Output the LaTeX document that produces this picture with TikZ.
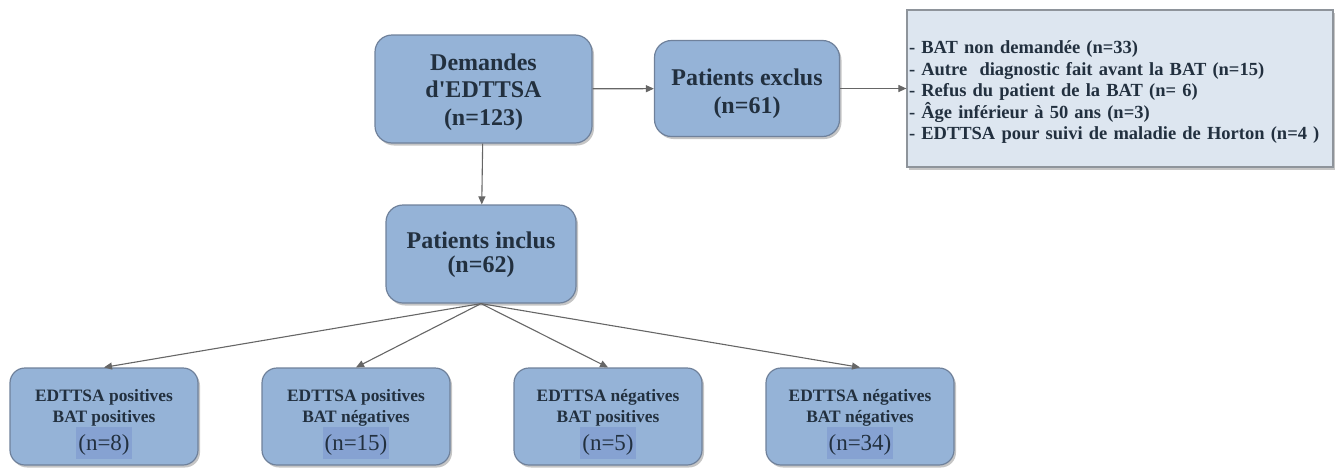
\documentclass[tikz,border=0pt]{standalone}
\usepackage{fontspec}
\setmainfont{Liberation Serif}
\usetikzlibrary{arrows.meta,shadows}
\definecolor{boxfill}{HTML}{95B3D7}
\definecolor{boxdraw}{HTML}{6F819B}
\definecolor{txt}{HTML}{22303F}
\definecolor{notefill}{HTML}{DDE6F0}
\definecolor{notedraw}{HTML}{8E949B}
\definecolor{hl}{HTML}{86A2D2}
\definecolor{arr}{HTML}{666666}
\newcommand{\hlt}[1]{{\setlength{\fboxsep}{2pt}\colorbox{hl}{\fontseries{m}\fontsize{23}{23}\selectfont\rule[-7pt]{0pt}{28pt}#1}}}
\newcommand{\tstrut}[1]{\rule{0pt}{#1}}
\begin{document}
\begin{tikzpicture}[x=1pt,y=-1pt,
  shad/.style={drop shadow={shadow xshift=2pt,shadow yshift=-2.5pt,fill=black!45,opacity=0.5}},
  mainbox/.style={shad,draw=boxdraw,line width=1.2pt,fill=boxfill,rounded corners=17pt,
     align=center,text=txt,font=\bfseries\fontsize{24}{27.5}\selectfont,inner sep=0pt},
  smallbox/.style={shad,draw=boxdraw,line width=1.2pt,fill=boxfill,rounded corners=15pt,
     align=center,text=txt,font=\bfseries\fontsize{17.4}{21}\selectfont,inner sep=0pt,
     minimum width=188pt,minimum height=97pt},
  notebox/.style={shad,draw=notedraw,line width=1.2pt,fill=notefill,
     align=left,text=txt,font=\bfseries\fontsize{18.5}{21.6}\selectfont,
     minimum width=426pt,minimum height=157pt,text width=422pt,inner xsep=2pt},
  conn/.style={draw=arr,line width=1.1pt,-{Triangle[length=8pt,width=7pt]}}
]
\useasboundingbox (0,0) rectangle (1341,469);

\node[mainbox,minimum width=217pt,minimum height=108pt] (dem) at (483.5,89)
  {\tstrut{22.5pt}Demandes\\d\textquotesingle EDTTSA\\(n=123)};
\node[mainbox,minimum width=185pt,minimum height=96pt,font=\bfseries\fontsize{24}{28}\selectfont] (exc) at (747,88.5)
  {\tstrut{26.5pt}Patients exclus\\(n=61)};
\node[notebox] (note) at (1120,88.5)
  {\tstrut{20.5pt}- BAT non demandée (n=33)\\
   - Autre\ \ diagnostic fait avant la BAT (n=15)\\
   - Refus du patient de la BAT (n= 6)\\
   - Âge inférieur à 50 ans (n=3)\\
   - EDTTSA pour suivi de maladie de Horton (n=4 )};
\node[mainbox,minimum width=190pt,minimum height=98pt,font=\bfseries\fontsize{24}{24}\selectfont] (inc) at (481,254)
  {\tstrut{18.5pt}Patients inclus\\(n=62)};

\node[smallbox] (b1) at (104,416.5)
  {\tstrut{27.5pt}EDTTSA positives\\BAT positives\\\hlt{(n=8)}};
\node[smallbox] (b2) at (356,416.5)
  {\tstrut{27.5pt}EDTTSA positives\\BAT négatives\\\hlt{(n=15)}};
\node[smallbox] (b3) at (608,416.5)
  {\tstrut{27.5pt}EDTTSA négatives\\BAT positives\\\hlt{(n=5)}};
\node[smallbox] (b4) at (860,416.5)
  {\tstrut{27.5pt}EDTTSA négatives\\BAT négatives\\\hlt{(n=34)}};

\draw[conn] (dem) -- (exc);
\draw[conn] (exc) -- (note);
\draw[conn] (dem) -- (inc);
\draw[conn] (inc.south) -- (b1.north);
\draw[conn] (inc.south) -- (b2.north);
\draw[conn] (inc.south) -- (b3.north);
\draw[conn] (inc.south) -- (b4.north);
\end{tikzpicture}
\end{document}
